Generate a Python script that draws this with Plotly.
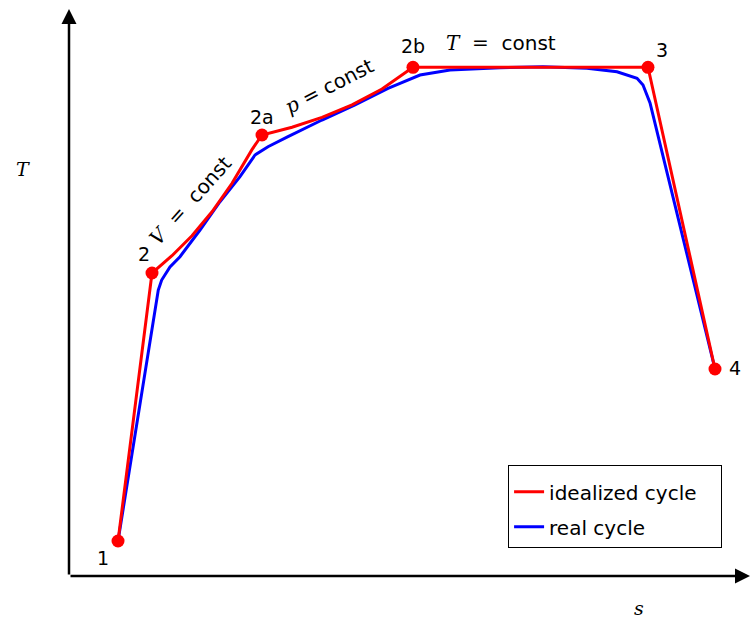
import plotly.graph_objects as go

# Idealized cycle state points (s, T), arbitrary units
states = ["1", "2", "2a", "2b", "3", "4"]
s_states = [0.720, 1.219, 2.834, 5.051, 8.502, 9.486]
T_states = [0.617, 5.344, 7.778, 8.972, 8.972, 3.651]

# Idealized cycle path (isochore and isobar are curved)
s_ideal = [0.720, 1.219, 1.512, 1.806, 2.100, 2.394, 2.687, 2.834,
           3.275, 3.715, 4.156, 4.596, 5.051, 8.502, 9.486]
T_ideal = [0.617, 5.344, 5.649, 6.002, 6.423, 6.926, 7.520, 7.778,
           7.914, 8.088, 8.309, 8.589, 8.972, 8.972, 3.651]

# Real cycle path
s_real = [0.720, 1.278, 1.311, 1.361, 1.483, 1.630, 1.924, 2.217, 2.511, 2.731,
          2.922, 3.216, 3.715, 4.200, 4.684, 4.861, 5.154, 5.595, 6.329, 6.960,
          7.606, 8.047, 8.341, 8.429, 8.532, 9.486]
T_real = [0.617, 4.780, 5.044, 5.220, 5.450, 5.631, 6.102, 6.601, 7.042, 7.425,
          7.571, 7.748, 8.042, 8.307, 8.601, 8.690, 8.836, 8.924, 8.965, 8.982,
          8.954, 8.894, 8.778, 8.660, 8.342, 3.651]

# label offsets (pixels) for state labels
label_dx = [-15, -8, 0, 0, 14, 20]
label_dy = [-17, 19, 18, 21, 17, 1]

FONT = "DejaVu Sans"
SERIF = "DejaVu Serif"
FS = 20

fig = go.Figure()
fig.add_trace(go.Scatter(x=s_real, y=T_real, mode="lines", name="real cycle",
                         legendrank=2, legendgroup="real",
                         line=dict(color="#0000ff", width=3)))
fig.add_trace(go.Scatter(x=s_ideal, y=T_ideal, mode="lines", name="idealized cycle&nbsp;&nbsp;&nbsp;",
                         legendrank=1, legendgroup="ideal",
                         line=dict(color="#ff0000", width=3)))
fig.add_trace(go.Scatter(x=s_states, y=T_states, mode="markers", showlegend=False,
                         marker=dict(color="#ff0000", size=13)))

ann = []
for st, x, y, dx, dy in zip(states, s_states, T_states, label_dx, label_dy):
    ann.append(dict(x=x, y=y, xref="x", yref="y", text=st, showarrow=False,
                    xshift=dx, yshift=dy, font=dict(family=FONT, size=19, color="black")))

def mlabel(var, wide=True):
    sp = "&nbsp;&nbsp;=&nbsp; " if wide else "&nbsp;= "
    return (f"<span style='font-family:{SERIF};font-style:italic'>{var}</span>"
            f"<span style='font-family:{SERIF}'>{sp}</span>const")

# process labels along segments
ann.append(dict(x=(s_states[1] + s_states[2]) / 2, y=(T_states[1] + T_states[2]) / 2,
                text=mlabel("V"), showarrow=False, textangle=-48, xshift=-17, yshift=3,
                font=dict(family=FONT, size=FS, color="black")))
ann.append(dict(x=(s_states[2] + s_states[3]) / 2, y=(T_states[2] + T_states[3]) / 2,
                text=mlabel("p", wide=False), showarrow=False, textangle=-27, xshift=-8, yshift=15,
                font=dict(family=FONT, size=FS, color="black")))
ann.append(dict(x=(s_states[3] + s_states[4]) / 2 - 0.44, y=T_states[3],
                text=mlabel("T"), showarrow=False, yshift=24,
                font=dict(family=FONT, size=FS, color="black")))

# axes arrows
ann.append(dict(x=10, y=0, ax=0, ay=0, xref="x", yref="y", axref="x", ayref="y",
                showarrow=True, arrowhead=2, arrowsize=1.2, arrowwidth=2.5, arrowcolor="black", text=""))
ann.append(dict(x=0, y=10, ax=0, ay=0, xref="x", yref="y", axref="x", ayref="y",
                showarrow=True, arrowhead=2, arrowsize=1.2, arrowwidth=2.5, arrowcolor="black", text=""))

# axis labels
ann.append(dict(x=-0.081, y=0.741, xref="paper", yref="paper", text="<i>T</i>", showarrow=False,
                font=dict(family=SERIF, size=19, color="black")))
ann.append(dict(x=0.848, y=-0.079, xref="paper", yref="paper", text="<i>s</i>", showarrow=False,
                font=dict(family=SERIF, size=19, color="black")))

fig.update_layout(
    width=750, height=622,
    margin=dict(l=69, r=0, t=9, b=46),
    plot_bgcolor="white", paper_bgcolor="white",
    showlegend=True,
    legend=dict(x=0.959, y=0.196, xanchor="right", yanchor="top",
                bordercolor="black", borderwidth=1, bgcolor="white",
                traceorder="grouped", tracegroupgap=6,
                title=dict(text="&nbsp;", font=dict(size=5)),
                font=dict(family=FONT, size=FS, color="black"),
                itemwidth=30),
    annotations=ann,
)
fig.update_xaxes(range=[0, 10], showgrid=False, zeroline=False, showticklabels=False,
                 ticks="", showline=False)
fig.update_yaxes(range=[0, 10], showgrid=False, zeroline=False, showticklabels=False,
                 ticks="", showline=False)

fig.write_html("out.html")
